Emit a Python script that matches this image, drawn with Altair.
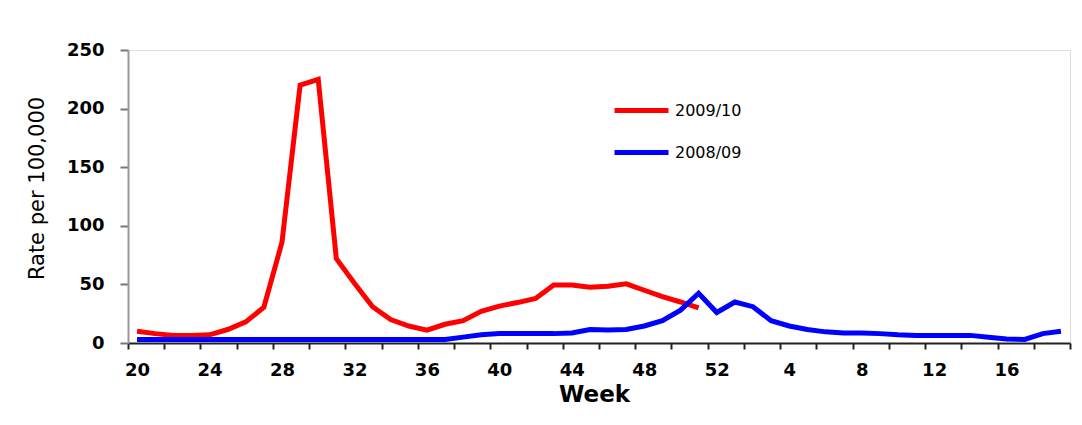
import json
import altair as alt
import pandas as pd

# Week categories along the x axis (season runs week 20 -> week 19 of next year)
weeks = [20, 21, 22, 23, 24, 25, 26, 27, 28, 29, 30, 31, 32, 33, 34, 35, 36,
         37, 38, 39, 40, 41, 42, 43, 44, 45, 46, 47, 48, 49, 50, 51, 52,
         1, 2, 3, 4, 5, 6, 7, 8, 9, 10, 11, 12, 13, 14, 15, 16, 17, 18, 19]

series_names = ["2009/10", "2008/09"]
series_colors = ["#ff0000", "#0000ff"]

# Rate per 100,000, 2009/10 season (weeks 20..51)
rate_2009_10 = [10, 8, 6.5, 6.5, 7, 11.5, 18, 30.5, 86, 220, 225, 72, 51, 31,
                20, 14.5, 11, 16, 19, 27, 31.5, 34.5, 38, 49.5, 49.5, 47.5,
                48.5, 50.5, 45, 39.5, 35, 30]

# Rate per 100,000, 2008/09 season (weeks 20..52, 1..19)
rate_2008_09 = [3, 3, 3, 3, 3, 3, 3, 3, 3, 3, 3, 3, 3, 3, 3, 3, 3, 3,
                5, 7, 8, 8, 8, 8, 8.5, 11.5, 11, 11.5, 14.5, 19, 28, 42.5,
                26, 35, 31, 19, 14.5, 11.5, 9.5, 8.5, 8.5, 8, 7, 6.5, 6.5,
                6.5, 6.5, 5, 3.5, 3, 8, 10]

y_ticks = [0, 50, 100, 150, 200, 250]

df_red = pd.DataFrame({
    "idx": list(range(len(rate_2009_10))),
    "season": series_names[0],
    "rate": rate_2009_10,
})
df_blue = pd.DataFrame({
    "idx": list(range(len(rate_2008_09))),
    "season": series_names[1],
    "rate": rate_2008_09,
})

n = len(weeks)
tick_vals = [k - 0.5 for k in range(0, n + 1, 2)]
label_vals = list(range(0, n, 4))
label_expr = json.dumps([str(w) for w in weeks]) + "[round(datum.value)]"

x_scale = alt.Scale(domain=[-0.5, n - 0.5], nice=False, zero=False)
y_scale = alt.Scale(domain=[0, 250], nice=False)
color_scale = alt.Scale(domain=series_names, range=series_colors)

legend = alt.Legend(
    title=None,
    orient="none",
    legendX=484,
    legendY=31,
    direction="vertical",
    symbolType="stroke",
    symbolStrokeWidth=5,
    symbolSize=2916,
    labelFont="DejaVu Sans",
    labelFontSize=16,
    labelColor="#000000",
    labelOffset=4,
    rowPadding=2,
    padding=0,
)

y_enc = alt.Y(
    "rate:Q",
    scale=y_scale,
    axis=alt.Axis(
        title="Rate per 100,000",
        values=y_ticks,
        labelFont="DejaVu Sans",
        labelFontWeight="bold",
        labelFontSize=18,
        labelColor="#000000",
        labelPadding=16,
        tickSize=8,
        tickWidth=2,
        tickColor="#777777",
        domainColor="#999999",
        domainWidth=2,
        grid=False,
        titleFont="DejaVu Sans",
        titleFontWeight="normal",
        titleFontSize=21,
        titleColor="#000000",
        titleAngle=270,
        titleAlign="center",
        titleBaseline="middle",
        titleX=-91,
        titleY=138,
    ),
)

# Layer 1: red series, carries the tick marks (between categories)
red = alt.Chart(df_red).mark_line(strokeWidth=5, strokeJoin="miter").encode(
    x=alt.X(
        "idx:Q",
        scale=x_scale,
        axis=alt.Axis(
            title=None,
            orient="bottom",
            values=tick_vals,
            labels=False,
            tickSize=6,
            tickWidth=2,
            tickColor="#222222",
            domainColor="#222222",
            domainWidth=2,
            grid=False,
        ),
    ),
    y=y_enc,
    color=alt.Color("season:N", scale=color_scale, legend=legend),
    order=alt.Order("idx:Q"),
)

# Layer 2: blue series, carries the category labels and axis title
blue = alt.Chart(df_blue).mark_line(strokeWidth=5, strokeJoin="miter").encode(
    x=alt.X(
        "idx:Q",
        scale=x_scale,
        axis=alt.Axis(
            title="Week",
            orient="bottom",
            values=label_vals,
            labelExpr=label_expr,
            labelFlush=False,
            labelOverlap=False,
            labelFont="DejaVu Sans",
            labelFontWeight="bold",
            labelFontSize=18,
            labelColor="#000000",
            labelPadding=18,
            ticks=False,
            domain=False,
            grid=False,
            titleFont="DejaVu Sans",
            titleFontWeight="bold",
            titleFontSize=23,
            titleColor="#000000",
            titleBaseline="alphabetic",
            titleY=58,
            titleX=466,
        ),
    ),
    y=y_enc,
    color=alt.Color("season:N", scale=color_scale, legend=legend),
    order=alt.Order("idx:Q"),
)

chart = alt.layer(red, blue).resolve_axis(x="independent").properties(
    width=942,
    height=293,
    autosize=alt.AutoSizeParams(type="none"),
    padding={"left": 120, "top": 42, "right": 4, "bottom": 74},
).configure_view(strokeWidth=0, stroke="transparent").configure(background="#ffffff")

chart.save("out.html", embed_options={"renderer": "svg", "actions": False})
